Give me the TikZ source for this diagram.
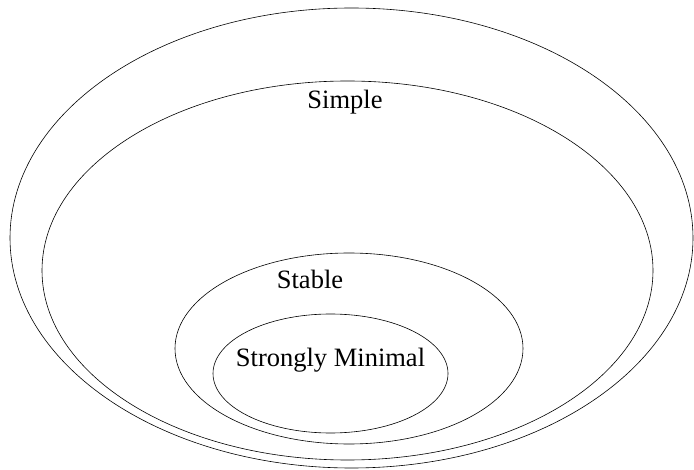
\documentclass[tikz,border=0pt]{standalone}
\usepackage{fontspec}
\setmainfont{Liberation Serif}
\usetikzlibrary{positioning}

\begin{document}
\begin{tikzpicture}[x=1pt,y=-1pt,line width=0.6pt]
 \useasboundingbox (0,0) rectangle (694,470);
 \tikzset{lbl/.style={font=\fontsize{26.5}{30}\selectfont,inner sep=0pt,anchor=base}}
 \draw (351.5,238) ellipse (341.5 and 230); 
 \draw (347.5,270.5) ellipse (305.5 and 189.5); 
 \draw (349,348.5) ellipse (174 and 95.5); 
 \draw (330.5,373.5) ellipse (117.5 and 59.5); 
 \node[lbl] (simple) at (345,109) {Simple};
 \node[lbl] (stable) at (310,289) {Stable};
 \node[lbl] (minimal) at (330.5,367) {Strongly Minimal};
\end{tikzpicture}
\end{document}
